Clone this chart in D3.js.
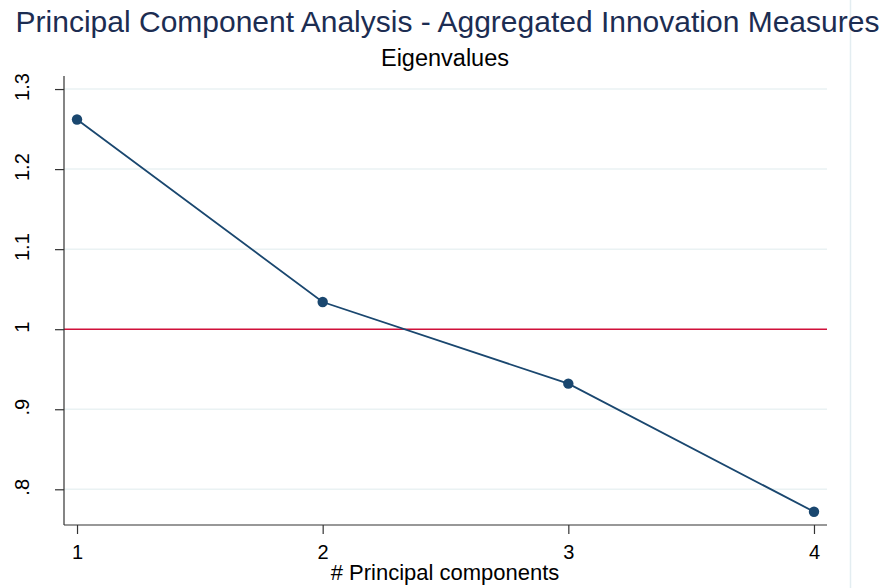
<!DOCTYPE html>
<html>
<head>
<meta charset="utf-8">
<script src="https://cdn.jsdelivr.net/npm/d3@7"></script>
<style>
  html, body { margin: 0; padding: 0; background: #fff; }
  text { font-family: "Liberation Sans", Arial, sans-serif; }
</style>
</head>
<body>
<svg id="chart" width="894" height="588"></svg>
<script>
// Scree plot data: eigenvalue of each principal component
const components = [1, 2, 3, 4];
const eigenvalues = [1.262, 1.034, 0.932, 0.772];
const yTicks = [0.8, 0.9, 1.0, 1.1, 1.2, 1.3];
const yTickLabels = [".8", ".9", "1", "1.1", "1.2", "1.3"];
const xTicks = [1, 2, 3, 4];
const referenceLine = 1;

const svg = d3.select("#chart");
const W = 894, H = 588;
const plot = { left: 64, right: 827, top: 76, bottom: 525 };

const x = d3.scaleLinear().domain([0.947, 4.053]).range([plot.left, plot.right]);
const y = d3.scaleLinear().domain([0.7554, 1.3163]).range([plot.bottom, plot.top]);

// outer region edge
svg.append("line")
  .attr("x1", 850.5).attr("x2", 850.5).attr("y1", 0).attr("y2", H)
  .attr("stroke", "#e3edf1").attr("stroke-width", 1.5);

// titles
svg.append("text")
  .attr("x", 447.5).attr("y", 32)
  .attr("text-anchor", "middle")
  .attr("font-size", 30)
  .attr("fill", "#1c2d52")
  .text("Principal Component Analysis - Aggregated Innovation Measures");

svg.append("text")
  .attr("x", 445).attr("y", 66)
  .attr("text-anchor", "middle")
  .attr("font-size", 23.5)
  .attr("fill", "#000")
  .text("Eigenvalues");

// horizontal grid
svg.append("g").selectAll("line")
  .data(yTicks.filter(v => v !== referenceLine))
  .join("line")
  .attr("x1", plot.left).attr("x2", plot.right)
  .attr("y1", d => y(d)).attr("y2", d => y(d))
  .attr("stroke", "#eaf2f3").attr("stroke-width", 1.5);

// reference line at eigenvalue = 1
svg.append("line")
  .attr("x1", plot.left).attr("x2", plot.right)
  .attr("y1", y(referenceLine)).attr("y2", y(referenceLine))
  .attr("stroke", "#d0103a").attr("stroke-width", 1.6);

// y axis
const yAxis = d3.axisLeft(y)
  .tickValues(yTicks)
  .tickFormat((d, i) => yTickLabels[i])
  .tickSize(9);
const gy = svg.append("g").attr("transform", `translate(${plot.left},0)`).call(yAxis);
gy.select(".domain").attr("stroke", "#333").attr("d", `M0,${plot.top}V${plot.bottom}`).attr("stroke-width", 1.2);
gy.selectAll(".tick line").attr("stroke", "#333").attr("stroke-width", 1.2);
gy.selectAll(".tick text")
  .attr("font-size", 20)
  .attr("fill", "#000")
  .attr("text-anchor", "middle")
  .attr("x", null).attr("y", 0).attr("dy", null)
  .attr("transform", "translate(-35,-2.5) rotate(-90)");

// x axis
const xAxis = d3.axisBottom(x).tickValues(xTicks).tickFormat(d3.format("d")).tickSize(9).tickPadding(11);
const gx = svg.append("g").attr("transform", `translate(0,${plot.bottom})`).call(xAxis);
gx.select(".domain").attr("stroke", "#333").attr("d", `M${plot.left},0H${plot.right}`).attr("stroke-width", 1.2);
gx.selectAll(".tick line").attr("stroke", "#333").attr("stroke-width", 1.2);
gx.selectAll(".tick text").attr("font-size", 20).attr("fill", "#000");

svg.append("text")
  .attr("x", 445).attr("y", 580)
  .attr("text-anchor", "middle")
  .attr("font-size", 22)
  .attr("fill", "#000")
  .text("# Principal components");

// eigenvalue line and markers
const pts = components.map((c, i) => [c, eigenvalues[i]]);
svg.append("path")
  .datum(pts)
  .attr("d", d3.line().x(d => x(d[0])).y(d => y(d[1])))
  .attr("fill", "none")
  .attr("stroke", "#1a476f")
  .attr("stroke-width", 1.8);

svg.append("g").selectAll("circle")
  .data(pts)
  .join("circle")
  .attr("cx", d => x(d[0])).attr("cy", d => y(d[1]))
  .attr("r", 5.2)
  .attr("fill", "#1a476f");
</script>
</body>
</html>
